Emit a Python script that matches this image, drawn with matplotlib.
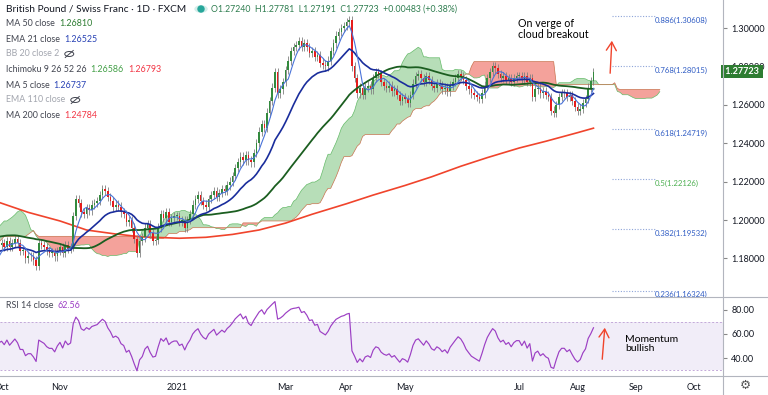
import matplotlib
matplotlib.use('Agg')
import matplotlib.pyplot as plt
from matplotlib.lines import Line2D
from matplotlib.patches import Ellipse, Circle
import matplotlib.transforms as mtransforms
import numpy as np
import pandas as pd

plt.rcParams['font.family'] = ['Lato', 'DejaVu Sans']

# GBP/CHF daily closes (FXCM); Jun-Sep 2020 is lead-in for the indicators
close_jun20 = [1.1920, 1.2020, 1.2080, 1.2150, 1.2190, 1.2050, 1.2040, 1.2010, 1.1950, 1.1930, 1.1980,
               1.1900, 1.1890, 1.1840, 1.1780, 1.1760, 1.1820, 1.1790, 1.1760, 1.1720, 1.1700, 1.1720]
close_jul20 = [1.1740, 1.1760, 1.1780, 1.1770, 1.1800, 1.1820, 1.1810, 1.1860, 1.1800, 1.1780, 1.1760, 1.1800,
               1.1790, 1.1830, 1.1790, 1.1800, 1.1780, 1.1760, 1.1790, 1.1830, 1.1870, 1.1900, 1.1950]
close_aug20 = [1.1960, 1.1980, 1.1940, 1.1950, 1.1920, 1.1900, 1.1930, 1.1960, 1.1970, 1.2000, 1.2010,
               1.1960, 1.1990, 1.1970, 1.1980, 1.2010, 1.2040, 1.2070, 1.2100, 1.2130, 1.2130]
close_sep20 = [1.2120, 1.2100, 1.2070, 1.2060, 1.2050, 1.2000, 1.1940, 1.1850, 1.1770, 1.1760, 1.1720,
               1.1700, 1.1740, 1.1760, 1.1720, 1.1730, 1.1740, 1.1760, 1.1780, 1.1810, 1.1830, 1.1870]
close_oct20 = [1.1880, 1.1860, 1.1890, 1.1860, 1.1880, 1.1900, 1.1880, 1.1840, 1.1840, 1.1800, 1.1810,
               1.1810, 1.1790, 1.1760, 1.1880, 1.1870, 1.1860, 1.1840, 1.1830, 1.1830, 1.1810, 1.1840]
close_nov20 = [1.1860, 1.1830, 1.1870, 1.1850, 1.1860, 1.2020, 1.2110, 1.2090, 1.2040, 1.2030, 1.2060,
               1.2050, 1.2080, 1.2090, 1.2100, 1.2130, 1.2160, 1.2150, 1.2120, 1.2100, 1.2070]
close_dec20 = [1.2080, 1.2070, 1.2040, 1.2030, 1.1990, 1.2000, 1.1960, 1.1900, 1.1830, 1.1890, 1.1910, 1.1960,
               1.1980, 1.1930, 1.1890, 1.1895, 1.1960, 1.2030, 1.2010, 1.2040, 1.1990, 1.2010, 1.2020]
close_jan21 = [1.2020, 1.1990, 1.2000, 1.1960, 1.2000, 1.2030, 1.2080, 1.2110, 1.2130, 1.2100, 1.2080,
               1.2070, 1.2110, 1.2130, 1.2150, 1.2120, 1.2140, 1.2160, 1.2150, 1.2180, 1.2200]
close_feb21 = [1.2230, 1.2270, 1.2300, 1.2330, 1.2310, 1.2340, 1.2310, 1.2300, 1.2350, 1.2400,
               1.2460, 1.2500, 1.2480, 1.2560, 1.2620, 1.2690, 1.2770, 1.2660, 1.2680, 1.2720]
close_mar21 = [1.2780, 1.2830, 1.2880, 1.2900, 1.2910, 1.2930, 1.2900, 1.2920, 1.2900, 1.2870, 1.2880, 1.2850,
               1.2860, 1.2820, 1.2810, 1.2800, 1.2830, 1.2880, 1.2920, 1.2960, 1.2980, 1.3000, 1.3010]
close_apr21 = [1.3030, 1.3040, 1.2800, 1.2740, 1.2660, 1.2690, 1.2650, 1.2690, 1.2700, 1.2680, 1.2740,
               1.2770, 1.2760, 1.2720, 1.2700, 1.2690, 1.2700, 1.2670, 1.2680, 1.2650, 1.2620, 1.2640]
close_may21 = [1.2630, 1.2610, 1.2650, 1.2710, 1.2750, 1.2760, 1.2740, 1.2720, 1.2750, 1.2730, 1.2700,
               1.2690, 1.2710, 1.2700, 1.2680, 1.2690, 1.2670, 1.2700, 1.2720, 1.2740, 1.2760]
close_jun21 = [1.2750, 1.2730, 1.2700, 1.2680, 1.2660, 1.2650, 1.2640, 1.2630, 1.2660, 1.2700, 1.2740,
               1.2770, 1.2800, 1.2790, 1.2760, 1.2740, 1.2750, 1.2730, 1.2740, 1.2720, 1.2740, 1.2750]
close_jul21 = [1.2750, 1.2730, 1.2750, 1.2720, 1.2740, 1.2640, 1.2680, 1.2690, 1.2660, 1.2670, 1.2650,
               1.2640, 1.2570, 1.2560, 1.2600, 1.2640, 1.2660, 1.2660, 1.2640, 1.2650, 1.2620, 1.2590]
close_aug21 = [1.2570, 1.2580, 1.2610, 1.2630, 1.2690, 1.2724, 1.27723]

# MA 200 at a few dates
ma200_dates = ['2020-09-30', '2020-10-15', '2020-11-02', '2020-11-16', '2020-12-01', '2020-12-15',
               '2021-01-04', '2021-01-18', '2021-02-01', '2021-02-15', '2021-03-01', '2021-03-15',
               '2021-04-01', '2021-04-15', '2021-05-03', '2021-05-17', '2021-06-01', '2021-06-15',
               '2021-07-01', '2021-07-15', '2021-08-02', '2021-08-10']
ma200_vals = [1.2092, 1.2040, 1.1995, 1.1948, 1.1927, 1.1912, 1.1905, 1.1910, 1.1925, 1.1948, 1.1984, 1.2030,
              1.2085, 1.2130, 1.2180, 1.2225, 1.2280, 1.2325, 1.2375, 1.2410, 1.2455, 1.24784]

fib_ratios = ['0.886', '0.768', '0.618', '0.5', '0.382', '0.236']
fib_prices = [1.30608, 1.28015, 1.24719, 1.22126, 1.19532, 1.16324]

month_labels = ['Oct', 'Nov', '2021', 'Mar', 'Apr', 'May', 'Jul', 'Aug', 'Sep', 'Oct']
month_starts = ['2020-10-01', '2020-11-02', '2021-01-01', '2021-03-01', '2021-04-01', '2021-05-03',
                '2021-07-01', '2021-08-02', '2021-09-01', '2021-10-01']

close = np.array(close_jun20 + close_jul20 + close_aug20 + close_sep20 + close_oct20 + close_nov20 +
                 close_dec20 + close_jan21 + close_feb21 + close_mar21 + close_apr21 + close_may21 +
                 close_jun21 + close_jul21 + close_aug21)
n = len(close)
all_days = pd.bdate_range('2020-06-01', '2021-10-29')
p0 = all_days.get_loc(pd.Timestamp('2020-10-01'))
x = np.arange(n) - p0

def pos(d):
    return all_days.get_indexer([pd.Timestamp(d)])[0] - p0

s = pd.Series(close)
opn = s.shift(1).fillna(s.iloc[0]).values
wick = 0.0022
hi = np.maximum(opn, close) + wick
lo = np.minimum(opn, close) - wick
H, L = pd.Series(hi), pd.Series(lo)

ma5 = s.rolling(5).mean()
ema21 = s.ewm(span=21, adjust=False).mean()
ma50 = s.rolling(50).mean()
tenkan = (H.rolling(9).max() + L.rolling(9).min()) / 2
kijun = (H.rolling(26).max() + L.rolling(26).min()) / 2
lead1 = ((tenkan + kijun) / 2).values
lead2 = ((H.rolling(52).max() + L.rolling(52).min()) / 2).values
shift = 25
xc = np.arange(n + shift) - p0
la = np.r_[np.full(shift, np.nan), lead1]
lb = np.r_[np.full(shift, np.nan), lead2]

d = s.diff()
gain = d.clip(lower=0).ewm(alpha=1 / 14, adjust=False).mean()
loss = (-d.clip(upper=0)).ewm(alpha=1 / 14, adjust=False).mean()
rsi = 100 - 100 / (1 + gain / loss)

W, HH = 768, 395
fig = plt.figure(figsize=(W / 100, HH / 100), dpi=100)
ax = fig.add_axes([0, 98 / HH, 723 / W, 297 / HH])
ax2 = fig.add_axes([0, 19 / HH, 723 / W, 79 / HH], sharex=ax)

xl = (-0.6, 271.8)
ax.set_xlim(*xl)
ax.set_ylim(1.1599, 1.3146)

# ichimoku cloud
ax.fill_between(xc, la, lb, where=la >= lb, interpolate=True, color='#a5d6a7', alpha=0.8, lw=0, zorder=1)
ax.fill_between(xc, la, lb, where=la < lb, interpolate=True, color='#f28b82', alpha=0.8, lw=0, zorder=1)
ax.plot(xc, la, color='#66bb6a', lw=0.5, zorder=1.5)
ax.plot(xc, lb, color='#c8734f', lw=0.5, zorder=1.5)

ax.plot([pos(dd) for dd in ma200_dates], ma200_vals, color='#f0442c', lw=1.2, zorder=2)

# candles
up = close >= opn
ax.vlines(x, lo, hi, color='#808080', lw=0.6, zorder=3)
body = np.maximum(np.abs(close - opn), 0.0004)
base = np.minimum(close, opn)
ax.bar(x[up], body[up], bottom=base[up], width=0.62, color='#338a3e', lw=0, zorder=3.5)
ax.bar(x[~up], body[~up], bottom=base[~up], width=0.62, color='#e51c1c', lw=0, zorder=3.5)

ax.plot(x, ma50, color='#1b5e20', lw=1.3, zorder=4)
ax.plot(x, ema21, color='#1a2d9c', lw=1.2, zorder=4)
ax.plot(x, ma5, color='#4a73d9', lw=0.8, zorder=4)

# fibonacci levels
def xpix(px):
    return xl[0] + px / 723 * (xl[1] - xl[0])

for r, p in zip(fib_ratios, fib_prices):
    ax.hlines(p, xpix(612), xpix(655), colors='#8ea4d8', lw=0.8, linestyles=(0, (1, 1.5)), zorder=2)
    col = '#4caf50' if r == '0.5' else '#2f5cc4'
    ax.text(xpix(655), p - 0.0003, f'{r}({p:.5f})', color=col, fontsize=5.6, va='top', ha='left', zorder=5)

ax.yaxis.tick_right()
ax.set_yticks([1.18, 1.20, 1.22, 1.24, 1.26, 1.28, 1.30])
ax.set_yticklabels([f'{v:.5f}' for v in [1.18, 1.20, 1.22, 1.24, 1.26, 1.28, 1.30]])
ax.tick_params(axis='y', length=3, pad=3, labelsize=6.5, colors='#888888', labelcolor='#131722')
ax.tick_params(axis='x', length=0, labelbottom=False)
for sp in ax.spines.values():
    sp.set_visible(False)

last = close[-1]
tr = mtransforms.blended_transform_factory(ax.transAxes, ax.transData)
ax.text(1.0, last, ' 1.27723 ', transform=tr, color='white', fontsize=6.5, fontweight='bold',
        va='center', ha='left', clip_on=False, zorder=10,
        bbox=dict(boxstyle='square,pad=0.22', fc='#2e7d32', ec='none'))

# RSI panel
ax2.set_ylim(25.1, 90.7)
ax2.axhspan(30, 70, color='#7e57c2', alpha=0.1, lw=0)
ax2.axhline(70, color='#c3a9d9', lw=0.7, ls=(0, (2, 2)))
ax2.axhline(30, color='#c3a9d9', lw=0.7, ls=(0, (2, 2)))
ax2.plot(x, rsi, color='#9c3fc4', lw=0.85)
ax2.yaxis.tick_right()
ax2.set_yticks([40, 60, 80])
ax2.set_yticklabels(['40.00', '60.00', '80.00'])
ax2.tick_params(axis='y', length=3, pad=3, labelsize=6.5, colors='#888888', labelcolor='#131722')
ax2.set_xticks([pos(m) for m in month_starts])
ax2.set_xticklabels(month_labels)
ax2.tick_params(axis='x', length=0, pad=5, labelsize=6.5, labelcolor='#131722')
for sp in ax2.spines.values():
    sp.set_visible(False)

# panel frame lines
fig.add_artist(Line2D([0, 1], [98 / HH, 98 / HH], color='#b2b5be', lw=0.8))
fig.add_artist(Line2D([0, 1], [19 / HH, 19 / HH], color='#b2b5be', lw=0.8))
fig.add_artist(Line2D([723 / W, 723 / W], [0, 1], color='#b2b5be', lw=0.8))

# annotations
fig.text(518 / W, 1 - 18 / HH, 'On verge of\ncloud breakout', fontsize=7.7, color='#000000',
         va='top', ha='left', linespacing=1.0)
ax.annotate('', xy=(612, HH - 38), xytext=(610, HH - 76), xycoords='figure pixels',
            textcoords='figure pixels',
            arrowprops=dict(arrowstyle='->,head_length=0.5,head_width=0.3', color='#f0442c', lw=1,
                            mutation_scale=12))
ax2.annotate('', xy=(605, HH - 325), xytext=(602, HH - 362), xycoords='figure pixels',
             textcoords='figure pixels',
             arrowprops=dict(arrowstyle='->,head_length=0.5,head_width=0.3', color='#f0442c', lw=1,
                             mutation_scale=12))
fig.text(625 / W, 1 - 335 / HH, 'Momentum\nbullish', fontsize=7.5, color='#000000',
         va='top', ha='left', linespacing=1.0)

# legend block
renderer = fig.canvas.get_renderer()

def draw_eye(cx, cy, col):
    fx, fy = cx / W, 1 - cy / HH
    fig.add_artist(Ellipse((fx, fy), 9 / W, 5 / HH, transform=fig.transFigure, fill=False, ec=col, lw=0.7))
    fig.add_artist(Line2D([fx - 4 / W, fx + 4 / W], [fy - 3.5 / HH, fy + 3.5 / HH], color=col, lw=0.7))

def legend_line(y, parts, size=6.4, x0=6):
    xp = x0
    for txt, col in parts:
        if txt == 'EYE':
            draw_eye(xp + 6, y, col)
            xp += 14
            continue
        t = fig.text(xp / W, 1 - y / HH, txt, color=col, fontsize=size, va='center', ha='left')
        xp = t.get_window_extent(renderer).x1 + 4

lab, dis = '#434651', '#a3a6af'
legend_line(9, [('British Pound / Swiss Franc · 1D · FXCM', '#131722')], size=7.3)
fig.add_artist(Circle((201 / W, 1 - 9 / HH), 6 / W, transform=fig.transFigure, color='#d4eeea'))
fig.add_artist(Ellipse((201 / W, 1 - 9 / HH), 6 / W, 6 / HH, transform=fig.transFigure, color='#26a69a'))
fig.text(211 / W, 1 - 9 / HH, 'O1.27240  H1.27781  L1.27191  C1.27723  +0.00483 (+0.38%)',
         color='#2e7d4f', fontsize=6.3, va='center', ha='left')
legend_line(24, [('MA 50 close', lab), ('1.26810', '#2e7d32')])
legend_line(39, [('EMA 21 close', lab), ('1.26525', '#2842b5')])
legend_line(54, [('BB 20 close 2', dis), ('EYE', '#434651')])
legend_line(70, [('Ichimoku 9 26 52 26', lab), ('1.26586', '#43a047'), ('1.26793', '#f23645')])
legend_line(85, [('MA 5 close', lab), ('1.26737', '#2842b5')])
legend_line(100, [('EMA 110 close', dis), ('EYE', '#434651')])
legend_line(115, [('MA 200 close', lab), ('1.24784', '#f23645')])
legend_line(305, [('RSI 14 close', lab), ('62.56', '#9c3fc4')])

fig.text(745 / W, 1 - 385 / HH, '\u2699', fontsize=9, color='#555555', va='center', ha='center',
         family='DejaVu Sans')

fig.savefig('out.png', dpi=100)
